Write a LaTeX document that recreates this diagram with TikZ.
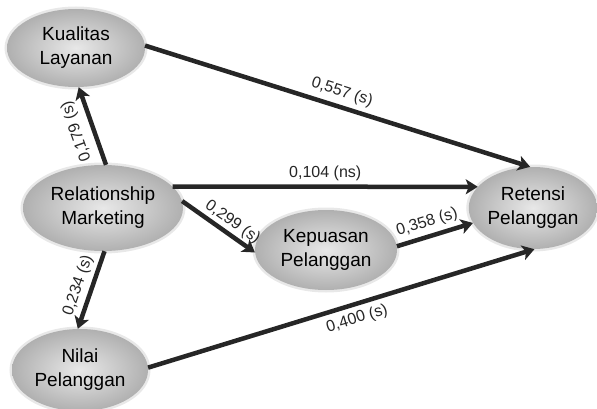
\documentclass[tikz,border=0pt]{standalone}
\usepackage{fontspec}
\setmainfont{Liberation Sans}
\usetikzlibrary{arrows.meta,positioning,shapes.geometric}

\tikzstyle{latent} = [ellipse, inner sep=0pt, align=center, shade,
inner color=gray!18, outer color=gray!62, font=\fontsize{19}{24}\selectfont,
preaction={draw=gray!18, line width=5pt}]
\tikzstyle{effect} = [line width=4.5pt, black!85,
-{Stealth[length=12pt,width=15pt,inset=3pt]}]
\tikzstyle{coef} = [font=\fontsize{16}{18}\selectfont, inner sep=2pt]

\begin{document}
\begin{tikzpicture}[x=1pt,y=1pt]
  \useasboundingbox (0,0) rectangle (597,408);
  %latent variables
  \node (rm) [latent, minimum width=160pt, minimum height=86pt] at (103,200) {Relationship\\Marketing};
  \node (kl) [latent, minimum width=138pt, minimum height=78pt] at (76,360) {Kualitas\\Layanan};
  \node (nilai) [latent, minimum width=136pt, minimum height=82pt] at (80,38) {Nilai\\Pelanggan};
  \node (kp) [latent, minimum width=142pt, minimum height=80pt] at (326,158) {Kepuasan\\Pelanggan};
  \node (ret) [latent, minimum width=128pt, minimum height=82pt] at (533,200) {Retensi\\Pelanggan};
  %paths
  \draw [effect] (rm.86) -- node [coef, sloped, allow upside down, above=5pt] {0,179 (s)} (kl.274);
  \draw [effect] (rm.272) -- node [coef, sloped, above=2pt] {0,234 (s)} (nilai.93);
  \draw [effect] (kl.2) -- node [coef, sloped, above=3pt] {0,557 (s)} (ret.94);
  \draw [effect] (rm.17) -- node [coef, above=2pt] {0,104 (ns)} (ret.159);
  \draw [effect] (rm.5) -- node [coef, sloped, above=0pt, pos=0.6] {0,299 (s)} (kp.182);
  \draw [effect] (kp.3) -- node [coef, sloped, above=2pt, pos=0.45] {0,358 (s)} (ret.194);
  \draw [effect] (nilai.2) -- node [coef, sloped, below=3pt, pos=0.53] {0,400 (s)} (ret.272);
\end{tikzpicture}
\end{document}
